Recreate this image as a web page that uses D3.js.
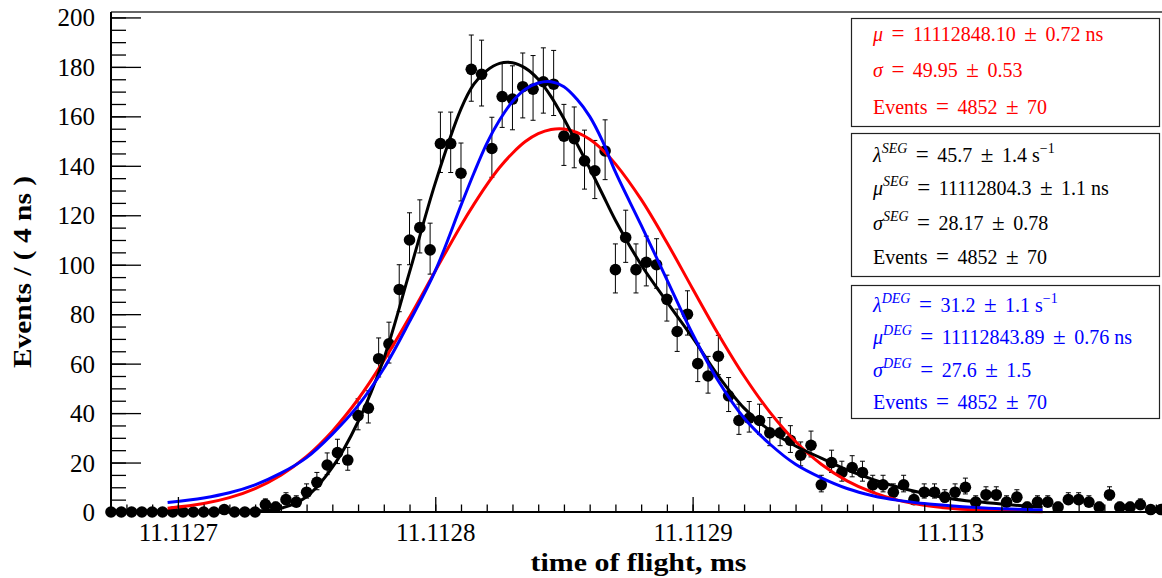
<!DOCTYPE html>
<html><head><meta charset="utf-8">
<script src="https://cdn.jsdelivr.net/npm/d3@7"></script>
<style>body{margin:0;background:#fff;} svg{display:block;}</style>
</head><body>
<svg id="chart" width="1162" height="578"></svg>
<script>
// ---------- data ----------
const binStartNs = 11112674;   // centre of first 4 ns bin
const binWidthNs = 4;
const counts = [0,0,0,0,0,0,0,0,0,0,0,1,0,0,0,3,2,5,4,8,
  12,19,24,21,39,42,62,68,90,110,115,106,149,149,137,179,177,147,168,167,
  172,171,174,173,152,151,142,138,146,98,111,98,101,100,86,73,80,60,55,63,
  47,37,38,37,32,32,29,23,27,11,20,16,18,16,11,11,8,11,5,8,
  8,6,8,10,4,7,7,4,6,2,4,4,2,5,5,4,2,7,2,2,3,1,1];

const curveX = [11112696,11112710,11112720,11112730,11112740,11112750,11112760,11112770,11112780,11112790,
  11112800,11112810,11112815,11112820,11112825,11112830,11112835,11112840,11112845,11112850,
  11112855,11112860,11112865,11112870,11112880,11112890,11112900,11112910,11112920,11112930,
  11112940,11112950,11112960,11112970,11112980,11112990,11113000,11113010,11113020,11113036];
const gaussY = [1.5,3.4,5.8,9.5,14.9,22.5,32.7,45.6,61.2,78.8,
  97.5,115.9,124.4,132.3,139.3,145.1,149.8,153.0,154.7,154.9,
  153.5,150.7,146.4,140.8,126.4,109.0,90.3,71.9,55.0,40.4,
  28.5,19.3,12.6,7.9,4.7,2.7,1.5,0.8,0.4,0.1];
const segY = [0,0,0.05,0.4,1.5,6.2,18,36.5,62,97,
  133,163,173,178.5,181.4,181.7,179.5,175,168,159,
  149,139,128.5,118,100,85,70.5,55,42,33,
  26.7,21.8,17,13.2,10,7.5,5.5,4.2,3.2,1.9];
const degY = [3.8,5.7,7.8,11,15.7,22,31.5,43,58,77,
  97.5,124,137,149,158.5,166,171,173.5,174,172,
  167,160,150,137.5,116,94,72,53,38,27.5,
  19.3,13.8,9.5,6.6,4.7,3.4,2.5,1.8,1.3,0.8];

const xMajorTicks = [11112700,11112800,11112900,11113000];
const xMajorLabels = ["11.1127","11.1128","11.1129","11.113"];
const yMajorTicks = [0,20,40,60,80,100,120,140,160,180,200];

const xTitle = "time of flight, ms";
const yTitle = "Events / ( 4 ns )";

const gaussLegend = [
  [{t:"μ",i:1},{t:" = 11112848.10 ± 0.72 ns"}],
  [{t:"σ",i:1},{t:" = 49.95 ± 0.53"}],
  [{t:"Events = 4852 ± 70"}]
];
const segLegend = [
  [{t:"λ",i:1},{t:"SEG",i:1,s:1},{t:" = 45.7 ± 1.4 s"},{t:"−1",s:1}],
  [{t:"μ",i:1},{t:"SEG",i:1,s:1},{t:" = 11112804.3 ± 1.1 ns"}],
  [{t:"σ",i:1},{t:"SEG",i:1,s:1},{t:" = 28.17 ± 0.78"}],
  [{t:"Events = 4852 ± 70"}]
];
const degLegend = [
  [{t:"λ",i:1},{t:"DEG",i:1,s:1},{t:" = 31.2 ± 1.1 s"},{t:"−1",s:1}],
  [{t:"μ",i:1},{t:"DEG",i:1,s:1},{t:" = 11112843.89 ± 0.76 ns"}],
  [{t:"σ",i:1},{t:"DEG",i:1,s:1},{t:" = 27.6 ± 1.5"}],
  [{t:"Events = 4852 ± 70"}]
];

// ---------- layout ----------
const plot = {left:111, right:1162, top:12, bottom:512};
const serif = "'Liberation Serif','Times New Roman',serif";
const svg = d3.select("#chart");

const x = d3.scaleLinear().domain([binStartNs, binStartNs + (plot.right-plot.left)/2.5735]).range([plot.left, plot.right]);
const y = d3.scaleLinear().domain([0, 202.2]).range([plot.bottom, plot.top]);

const points = counts.map((c,k)=>({x: binStartNs + k*binWidthNs, n: c}));

// ---------- data points with Poisson error bars ----------
const gData = svg.append("g");
points.forEach(p=>{
  const r = Math.sqrt(p.n+0.25);
  const lo = Math.max(0, p.n - (r-0.5)), hi = p.n + (r+0.5);
  if (p.n>0){
    const cx = x(p.x);
    gData.append("line").attr("x1",cx).attr("x2",cx).attr("y1",y(lo)).attr("y2",y(hi))
      .attr("stroke","#000").attr("stroke-width",1);
    [lo,hi].forEach(v=>gData.append("line").attr("x1",cx-2.5).attr("x2",cx+2.5)
      .attr("y1",y(v)).attr("y2",y(v)).attr("stroke","#000").attr("stroke-width",1));
  }
});
gData.selectAll("circle").data(points).join("circle")
  .attr("cx",d=>x(d.x)).attr("cy",d=>y(d.n)).attr("r",5.8).attr("fill","#000");

// ---------- fit curves ----------
const line = d3.line().x((d,i)=>x(curveX[i])).y(d=>y(d)).curve(d3.curveCatmullRom.alpha(0.5));
[[gaussY,"#ff0000"],[segY,"#000000"],[degY,"#0000ff"]].forEach(([vals,col])=>{
  svg.append("path").attr("d",line(vals)).attr("fill","none").attr("stroke",col)
    .attr("stroke-width",3).attr("stroke-linejoin","round");
});

// ---------- axes ----------
const xMinor = d3.range(11112680, 11113081, 10);
const yMinor = d3.range(0, 201, 5);
const axStyle = g=>{ g.select(".domain").remove(); g.selectAll("line").attr("stroke","#000").attr("stroke-width",1.3); };

svg.append("g").attr("transform",`translate(0,${plot.bottom})`)
  .call(d3.axisBottom(x).tickValues(xMinor).tickSize(-7.5).tickFormat(""))
  .call(axStyle);
const gx = svg.append("g").attr("transform",`translate(0,${plot.bottom})`)
  .call(d3.axisBottom(x).tickValues(xMajorTicks).tickSize(-15).tickPadding(11)
    .tickFormat((d,i)=>xMajorLabels[i]))
  .call(axStyle);
gx.selectAll("text").style("font-family",serif).style("font-size","25px").attr("fill","#000");

svg.append("g").attr("transform",`translate(${plot.left},0)`)
  .call(d3.axisLeft(y).tickValues(yMinor).tickSize(-15).tickFormat(""))
  .call(axStyle);
const gy = svg.append("g").attr("transform",`translate(${plot.left},0)`)
  .call(d3.axisLeft(y).tickValues(yMajorTicks).tickSize(-30).tickPadding(16))
  .call(axStyle);
gy.selectAll("text").style("font-family",serif).style("font-size","25px").attr("fill","#000").attr("dy","0.34em");

// frame lines
svg.append("line").attr("x1",plot.left).attr("x2",plot.right).attr("y1",plot.top).attr("y2",plot.top)
  .attr("stroke","#333").attr("stroke-width",1.5);
svg.append("line").attr("x1",plot.left).attr("x2",plot.left).attr("y1",plot.top).attr("y2",plot.bottom+1)
  .attr("stroke","#000").attr("stroke-width",2);
svg.append("line").attr("x1",plot.left-1).attr("x2",plot.right).attr("y1",plot.bottom).attr("y2",plot.bottom)
  .attr("stroke","#000").attr("stroke-width",2);

// titles
svg.append("text").attr("x",638.5).attr("y",571).attr("text-anchor","middle")
  .style("font-family",serif).style("font-size","25px").style("font-weight","bold")
  .attr("textLength",216).attr("lengthAdjust","spacingAndGlyphs").text(xTitle);
svg.append("text").attr("transform","translate(31,272) rotate(-90)").attr("text-anchor","middle")
  .style("font-family",serif).style("font-size","25px").style("font-weight","bold")
  .attr("textLength",192).attr("lengthAdjust","spacingAndGlyphs").text(yTitle);

// ---------- legend boxes ----------
function legend(box, lines, baselines, color){
  svg.append("rect").attr("x",box[0]+0.5).attr("y",box[1]+0.5).attr("width",box[2]-box[0]).attr("height",box[3]-box[1])
    .attr("fill","#fff").attr("stroke","#222").attr("stroke-width",1.2);
  lines.forEach((segs,i)=>{
    const t = svg.append("text").attr("x",box[0]+22).attr("y",baselines[i]).attr("fill",color)
      .style("font-family",serif).style("font-size","20px");
    let raised = false, pendingDx = 0;
    segs.forEach(s=>{
      const parts = s.t.split(/ (=|±) /);
      parts.forEach((part,j)=>{
        if (part === "") return;
        const isOp = (j % 2 === 1);
        const ts = t.append("tspan").text(part);
        let dy = 0;
        if (s.s){ ts.style("font-size","14px"); if(!raised){dy=-9; raised=true;} }
        else if (raised){ dy = 9; raised=false; }
        if (dy) ts.attr("dy",dy);
        if (s.i) ts.style("font-style","italic");
        if (isOp){ ts.style("font-size","23px").attr("dx",8.5 + pendingDx); pendingDx = 8.5; }
        else { if (pendingDx) ts.attr("dx",pendingDx); pendingDx = 0; }
      });
    });
  });
}
legend([851,18,1159,126], gaussLegend, [41,77,113.5], "#ff0000");
legend([851,133,1159,276], segLegend, [162,194.5,230,263.5], "#000000");
legend([851,285,1159,418], degLegend, [311.5,343.5,376.5,408.5], "#0000ff");
</script>
</body></html>
